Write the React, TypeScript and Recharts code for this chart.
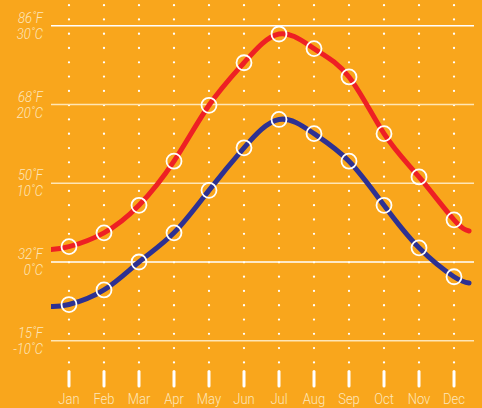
import React from 'react';
import { ComposedChart, Line, XAxis, YAxis, ReferenceLine } from 'recharts';

const months = ['Jan', 'Feb', 'Mar', 'Apr', 'May', 'Jun', 'Jul', 'Aug', 'Sep', 'Oct', 'Nov', 'Dec'];
const highC = [1.95, 3.7, 7.2, 12.8, 19.9, 25.3, 28.95, 27.1, 23.5, 16.3, 10.8, 5.35];
const lowC = [-5.4, -3.55, 0, 3.7, 9.1, 14.5, 18.1, 16.3, 12.8, 7.2, 1.8, -1.87];
// curve continues a little past Jan and Dec
const edgeIndex = [-0.514, 11.43];
const highEdge = [1.59, 3.94];
const lowEdge = [-5.65, -2.67];
const gridC = [-10, 0, 10, 20, 30];
const gridF = ['15', '32', '50', '68', '86'];

const data = [
  { i: edgeIndex[0], hi: highEdge[0], lo: lowEdge[0], edge: true },
  ...months.map((m, k) => ({ i: k, hi: highC[k], lo: lowC[k], edge: false })),
  { i: edgeIndex[1], hi: highEdge[1], lo: lowEdge[1], edge: true },
];

const FONT = "Roboto, 'Liberation Sans', sans-serif";
const CREAM = '#FDE6BC';

const renderDot = (props: any) => {
  const { cx, cy, payload, index } = props;
  if (payload.edge) return <g key={`e${index}`} />;
  return <circle key={`d${index}`} cx={cx} cy={cy} r={7.5} fill="none" stroke="#ffffff" strokeWidth={1.8} />;
};

const XTick = (props: any) => {
  const { x, y, payload } = props;
  return (
    <g>
      <line x1={x} x2={x} y1={y + 9} y2={y + 23.5} stroke="#ffffff" strokeWidth={3} strokeLinecap="round" />
      <text
        transform={`translate(${x},${y + 41.6}) scale(0.84,1)`}
        textAnchor="middle"
        fill={CREAM}
        fontFamily={FONT}
        fontWeight={300}
        fontSize={15.5}
      >
        {months[payload.value]}
      </text>
    </g>
  );
};

const YTick = (props: any) => {
  const { x, y, payload } = props;
  const k = gridC.indexOf(payload.value);
  return (
    <g fill={CREAM} fontFamily={FONT} fontSize={14.5} fontStyle="italic" fontWeight={300} textAnchor="end">
      <text transform={`translate(${x - 8},${y - 3}) scale(0.9,1)`}>{`${gridF[k]}˚F`}</text>
      <text transform={`translate(${x - 8},${y + 13}) scale(0.9,1)`}>{`${payload.value}˚C`}</text>
    </g>
  );
};

export default function App() {
  return (
    <div style={{ position: 'absolute', left: 0, top: 0, width: 482, height: 408, background: '#F9A61C' }}>
      <ComposedChart width={482} height={408} data={data} margin={{ top: 5, right: 8, left: 0, bottom: 0 }}>
        <XAxis
          dataKey="i"
          type="number"
          domain={[-0.514, 11.571]}
          ticks={months.map((m, k) => k)}
          interval={0}
          height={45.6}
          axisLine={false}
          tickLine={false}
          tickSize={0}
          tickMargin={0}
          tick={<XTick />}
          allowDataOverflow
        />
        <YAxis
          type="number"
          domain={[-12.749, 32.635]}
          ticks={gridC}
          interval={0}
          width={51}
          axisLine={false}
          tickLine={false}
          tickSize={0}
          tickMargin={0}
          tick={<YTick />}
          allowDataOverflow
        />
        {months.map((m, k) => (
          <ReferenceLine
            key={m}
            x={k}
            stroke="#ffffff"
            strokeWidth={2.3}
            strokeDasharray="0 14.29"
            strokeLinecap="round"
          />
        ))}
        {gridC.map((c) => (
          <ReferenceLine
            key={c}
            y={c}
            stroke={c === 30 || c === 0 ? '#ffffff' : '#FFE6B5'}
            strokeWidth={1.5}
          />
        ))}
        <Line
          type="natural"
          dataKey="hi"
          stroke="#EE2024"
          strokeWidth={5}
          strokeLinecap="round"
          dot={renderDot}
          activeDot={false}
          isAnimationActive={false}
        />
        <Line
          type="natural"
          dataKey="lo"
          stroke="#2E3192"
          strokeWidth={5}
          strokeLinecap="round"
          dot={renderDot}
          activeDot={false}
          isAnimationActive={false}
        />
      </ComposedChart>
    </div>
  );
}
